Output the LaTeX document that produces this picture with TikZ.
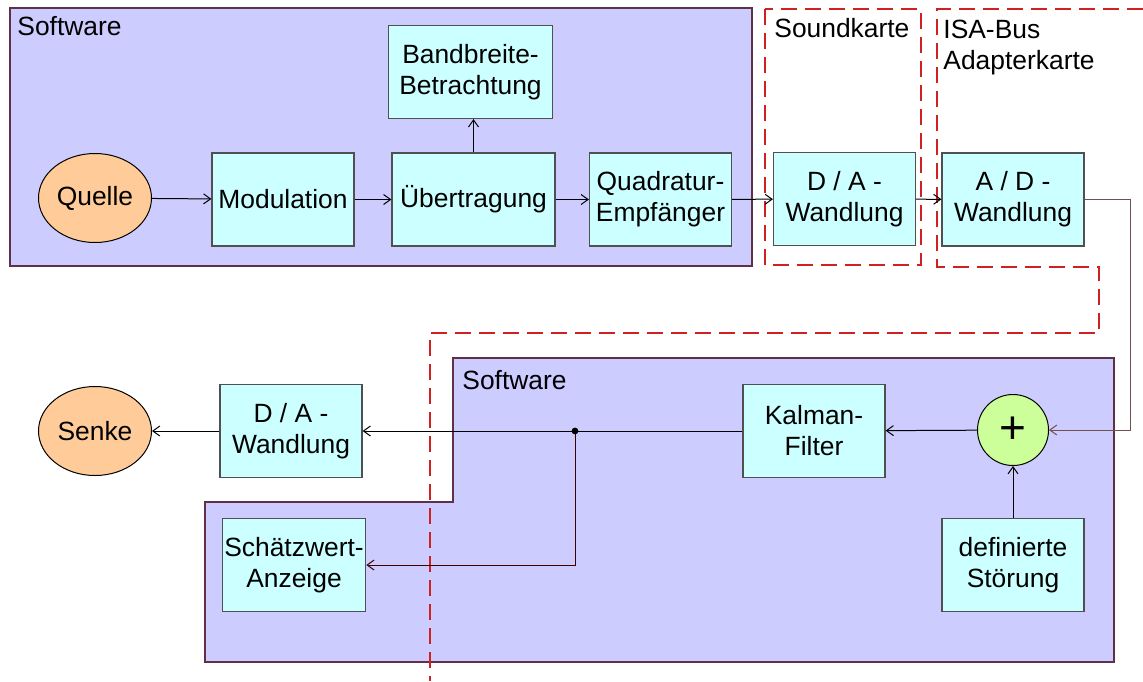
\documentclass[tikz,border=0pt]{standalone}
\usepackage{fontspec}
\setmainfont{Liberation Sans}
\usetikzlibrary{shapes.geometric,arrows.meta}
\definecolor{swfill}{HTML}{CCCCFF}
\definecolor{swline}{HTML}{603048}
\definecolor{boxfill}{HTML}{CCFFFF}
\definecolor{boxline}{HTML}{505050}
\definecolor{srcfill}{HTML}{FFCC99}
\definecolor{sumfill}{HTML}{CCFF99}
\definecolor{cardline}{HTML}{D02020}
\definecolor{feedline}{HTML}{705050}
\definecolor{tapline}{HTML}{400000}
\newcommand\dgfont{\fontsize{13.2}{15.5}\selectfont}

\begin{document}
\begin{tikzpicture}[x=0.5pt, y=-0.5pt,
  blk/.style={draw=boxline, fill=boxfill, line width=0.6pt, align=center, minimum width=71pt, minimum height=46.5pt, inner sep=1pt, font=\dgfont},
  src/.style={ellipse, draw=black, fill=srcfill, line width=0.5pt, minimum width=56.5pt, minimum height=44.5pt, inner sep=0pt, font=\dgfont},
  sum/.style={circle, draw=black, fill=sumfill, line width=0.5pt, minimum size=35.5pt, inner sep=0pt, font=\fontsize{23}{23}\selectfont},
  swarea/.style={draw=swline, fill=swfill, line width=0.6pt},
  card/.style={draw=cardline, line width=0.7pt, dash pattern=on 8pt off 4pt},
  lbl/.style={font=\dgfont, align=left, inner sep=0pt},
  arr/.style={-{Straight Barb[length=3.5pt, width=5pt]}, line width=0.5pt},
  farr/.style={arr, draw=feedline},
  tarr/.style={arr, draw=tapline}
]
\useasboundingbox (0,0) rectangle (1143,681);
% software areas
\draw[swarea] (10,8) rectangle (752,266);
\draw[swarea] (453,358) -- (1114,358) -- (1114,662) -- (205,662) -- (205,502) -- (453,502) -- cycle;
\node[lbl, anchor=base west] (swtop) at (17,35) {Software};
\node[lbl, anchor=base west] (swbot) at (462,389) {Software};
% hardware
\draw[card] (765,9) rectangle (921,265);
\draw[card] (1143,9) -- (937,9) -- (937,267) -- (1099,267) -- (1099,333) -- (430,333) -- (430,681);
\node[lbl, anchor=base west] (sk) at (774,37) {Soundkarte};
\node[lbl, anchor=base west] (isa) at (943,69) {ISA-Bus\\Adapterkarte};
% row 1
\node[src] (quelle) at (95,198) {Quelle};
\node[blk] (mod) at (283,199.5) {Modulation};
\node[blk, minimum width=81.5pt] (uebert) at (473.5,199.5) {Übertragung};
\node[blk, minimum width=82pt] (band) at (470.5,72) {Bandbreite-\\Betrachtung};
\node[blk] (quad) at (660.5,199.5) {Quadratur-\\Empfänger};
\node[blk] (da1) at (844.5,199) {D / A -\\Wandlung};
\node[blk] (ad) at (1013,199.5) {A / D -\\Wandlung};
% row 2
\node[src] (senke) at (95,431) {Senke};
\node[blk] (da2) at (291,431) {D / A -\\Wandlung};
\node[blk] (kalman) at (814,431) {Kalman-\\Filter};
\node[sum] (plus) at (1013,430) {+};
\node[blk] (schaetz) at (294,565) {Schätzwert-\\Anzeige};
\node[blk] (stoer) at (1013,565) {definierte\\Störung};
\coordinate (jn) at (575,431);
\coordinate (turn) at (1130,201);
% flow
\draw[arr] (quelle) -- (mod);
\draw[arr] (mod) -- (uebert);
\draw[arr] (uebert) -- (quad);
\draw[arr] (uebert.north) -- (uebert.north |- band.south);
\draw[arr] (quad) -- (da1);
\draw[arr] (da1) -- (ad);
\draw[farr] (ad.east) -- (ad.east -| turn) |- (plus.east);
\draw[arr] (stoer) -- (plus);
\draw[arr] (plus) -- (kalman);
\draw[arr] (kalman) -- (da2);
\draw[arr] (da2) -- (senke);
\draw[tarr] (jn) |- (schaetz.east);
\fill (jn) circle[radius=1.7pt];
\end{tikzpicture}
\end{document}
